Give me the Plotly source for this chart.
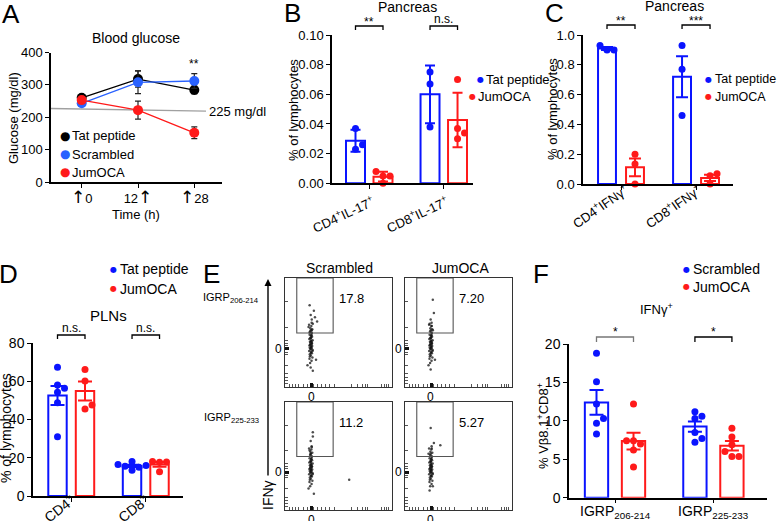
import numpy as np
import plotly.graph_objects as go

W, H = 777, 521
FONT = "Liberation Sans, Arial, sans-serif"
BLUE = "#0a14ff"
RED = "#ff1a1a"
BLUE_A = "#2a62ff"

# ---------------- data ----------------
# Panel A: blood glucose (mg/dl)
time_labels = ["0", "12", "28"]
tat_glucose = [260, 318, 284]
tat_glucose_err = [9, 25, 12]
scr_glucose = [243, 308, 312]
scr_glucose_err = [8, 35, 23]
jum_glucose = [253, 222, 152]
jum_glucose_err = [8, 28, 18]
glucose_threshold = 225

# Panel B: pancreas IL-17 (% of lymphocytes)
b_groups = ["CD4<sup>+</sup>IL-17<sup>+</sup>", "CD8<sup>+</sup>IL-17<sup>+</sup>"]
b_tat = [[0.023, 0.037, 0.026], [0.075, 0.067, 0.038]]
b_jum = [[0.008, 0.005, 0.005, 0.000], [0.070, 0.037, 0.030, 0.034]]
b_sig = ["**", "n.s."]

# Panel C: pancreas IFNg
c_groups = ["CD4<sup>+</sup>IFNγ<sup>+</sup>", "CD8<sup>+</sup>IFNγ<sup>+</sup>"]
c_tat = [[0.93, 0.90, 0.90], [0.93, 0.77, 0.46]]
c_jum = [[0.20, 0.135, 0.0], [0.068, 0.055, 0.0]]
c_sig = ["**", "***"]

# Panel D: PLNs
d_groups = ["CD4<sup>+</sup>", "CD8<sup>+</sup>"]
d_tat = [[67.3, 58.0, 56.3, 54.2, 48.8, 31.0], [13.5, 16.0, 15.5, 15.0, 16.5, 18.0]]
d_jum = [[66.2, 60.1, 45.5, 47.6], [17.8, 17.6, 18.0, 12.7]]
d_sig = ["n.s.", "n.s."]

# Panel E: flow plots (gate frequencies)
e_cols = ["Scrambled", "JumOCA"]
e_rows = ["IGRP<sub>206-214</sub>", "IGRP<sub>225-233</sub>"]
e_freq = [["17.8", "7.20"], ["11.2", "5.27"]]
flow_core_x = [23.5, 24.8, 22.9, 25.6, 24.1, 23.2, 25.1, 24.5, 22.6, 25.9, 23.8, 24.9, 23.1, 24.3,
               25.4, 22.8, 24.6, 23.6, 25.2, 24.0, 23.3, 24.7, 25.8, 22.7, 24.2, 23.9, 25.3, 24.4,
               23.0, 25.0, 24.8, 23.4, 24.1, 25.5, 23.7, 24.6, 22.5, 24.9, 23.2, 25.7,
               24.0, 24.5, 23.6, 25.1, 24.3, 23.9, 24.7, 24.2]
flow_core_y = [22, 24, 26, 27, 29, 30, 31, 32, 33, 34, 35, 35.5, 36, 37, 37.5, 38, 39, 39.5, 40, 41,
               41.5, 42, 43, 44, 44.5, 45, 46, 47, 48, 49, 50, 51, 52, 53, 54, 56, 57, 59, 28, 33,
               34.5, 36.5, 38.5, 40.5, 42.5, 45.5, 47.5, 31.5]
flow_extra_x = [[25, 24, 27, 23, 26, 22, 28, 30, 24, 26, 21, 29, 25, 23],
                [26, 24, 25, 27, 22, 28, 24, 26, 23],
                [25, 24, 26, 23, 60, 22, 27, 24, 26],
                [25, 27, 24, 33, 23, 26, 22]]
flow_extra_y = [[62, 66, 70, 75, 58, 55, 64, 60, 18, 15, 20, 25, 52, 50],
                [80, 62, 56, 68, 20, 25, 16, 52, 58],
                [58, 64, 68, 55, 28, 20, 15, 52, 72],
                [57, 62, 76, 60, 18, 22, 52]]
flow_zero = 24.3

# Panel F: IFNg+ % Vb8.1+CD8+
f_groups = ["IGRP<sub>206-214</sub>", "IGRP<sub>225-233</sub>"]
f_scr = [[18.8, 15.1, 12.2, 10.3, 9.7, 8.3], [11.2, 10.6, 10.3, 8.5, 7.7, 7.2]]
f_jum = [[12.2, 7.4, 7.4, 7.0, 6.2, 4.0], [9.05, 7.9, 6.9, 6.0, 5.35, 5.35]]
f_sig = ["*", "*"]

# ---------------- helpers ----------------
def X(p):
    return p / W

def Y(p):
    return 1 - p / H

annotations = []
shapes = []
traces = []
layout = dict(template="none", width=W, height=H, autosize=False,
              margin=dict(l=0, r=0, t=0, b=0, pad=0),
              paper_bgcolor="white", plot_bgcolor="white", barmode="overlay",
              showlegend=False, font=dict(family=FONT, color="black", size=13))


def ann(text, x, y, size=13, xanchor="center", yanchor="middle", angle=0, color="black"):
    annotations.append(dict(text=text, x=X(x), y=Y(y), xref="paper", yref="paper",
                            xanchor=xanchor, yanchor=yanchor, showarrow=False,
                            textangle=angle, font=dict(family=FONT, size=size, color=color)))


def aref(n, axis):
    return axis + ("" if n == 1 else str(n))


def akey(n, axis):
    return axis + "axis" + ("" if n == 1 else str(n))


def swarm(values, center, ppu_x, ppu_y, d):
    order = np.argsort(values)
    placed = []
    xs = [0.0] * len(values)
    for i in order:
        ypx = values[i] * ppu_y
        xpx = 0.0
        for k in [0, 1, -1, 2, -2, 3, -3]:
            xpx = k * d
            if all((xpx - a) ** 2 + (ypx - b) ** 2 >= (0.95 * d) ** 2 for a, b in placed):
                break
        placed.append((xpx, ypx))
        xs[i] = center + xpx / ppu_x
    return xs


AX_COMMON = dict(showline=True, linecolor="black", linewidth=1.5, ticks="outside", ticklen=4,
                 tickwidth=1.2, tickcolor="black", showgrid=False, zeroline=False,
                 fixedrange=True, automargin=False)


def bar_panel(n, xpx, ypx, yrange, ytickvals, ytickfmt, groups, left, right, lcol, rcol,
              err, sig, gap, bw, cap, fsize, bracket_px, sig_px, label_pos, label_angle,
              label_size, label_anchor="middle", dot=7, bracket_colors=None):
    xr = [-(xpx[2] - xpx[0]) / xpx[3], (xpx[1] - xpx[2]) / xpx[3]]
    xa = dict(AX_COMMON)
    xa.update(domain=[X(xpx[0]), X(xpx[1])], range=xr, anchor=aref(n, "y"),
              tickvals=[0.5, gap + 0.5], showticklabels=False)
    ya = dict(AX_COMMON)
    ya.update(domain=[Y(ypx[1]), Y(ypx[0])], range=yrange, anchor=aref(n, "x"),
              tickvals=ytickvals, tickformat=ytickfmt,
              tickfont=dict(size=fsize, family=FONT, color="black"))
    layout[akey(n, "x")] = xa
    layout[akey(n, "y")] = ya
    for g, (lx, ly) in zip(groups, label_pos):
        ann(g, lx, ly, size=label_size, angle=label_angle, yanchor=label_anchor)
    ppu_x = xpx[3]
    ppu_y = (ypx[1] - ypx[0]) / (yrange[1] - yrange[0])
    for vals, offs, col in [(left, 0, lcol), (right, 1, rcol)]:
        pos = [offs, gap + offs]
        means = [float(np.mean(v)) for v in vals]
        sds = [float(np.std(v, ddof=1)) for v in vals]
        if err == "sem":
            e = [s / np.sqrt(len(v)) for s, v in zip(sds, vals)]
        else:
            e = sds
        traces.append(go.Bar(x=pos, y=means, width=bw, xaxis=aref(n, "x"), yaxis=aref(n, "y"),
                             marker=dict(color="rgba(255,255,255,0)", line=dict(color=col, width=2)),
                             error_y=dict(type="data", array=e, color=col, thickness=2, width=cap),
                             hoverinfo="skip"))
        for p, v in zip(pos, vals):
            xs = swarm(v, p, ppu_x, ppu_y, dot)
            traces.append(go.Scatter(x=xs, y=v, mode="markers", xaxis=aref(n, "x"), yaxis=aref(n, "y"),
                                     marker=dict(color=col, size=dot, line=dict(width=0)),
                                     hoverinfo="skip", cliponaxis=False))
    for gi, s in enumerate(sig):
        x0 = gi * gap
        x1 = x0 + 1
        bc = "black" if bracket_colors is None else bracket_colors[gi]
        top, leg = bracket_px
        shapes.append(dict(type="path", xref=aref(n, "x"), yref="paper",
                           path=f"M {x0},{Y(leg)} L {x0},{Y(top)} L {x1},{Y(top)} L {x1},{Y(leg)}",
                           line=dict(color=bc, width=1.3)))
        yy = sig_px + (3 if "*" in s else 0)
        annotations.append(dict(text=s, x=(x0 + x1) / 2, y=Y(yy), xref=aref(n, "x"), yref="paper",
                                showarrow=False, xanchor="center", yanchor="middle",
                                font=dict(family=FONT, size=12, color="black")))


def legend(items, bx, by, dy, size=13, bullet_size=9, gap_px=4):
    for k, (label, col) in enumerate(items):
        y = by + k * dy
        bxk = bx[k] if isinstance(bx, (list, tuple)) else bx
        ann(f"<span style='color:{col};font-size:{bullet_size}px;font-family:DejaVu Sans'>●</span>",
            bxk, y, size=size)
        ann(label, bxk + gap_px, y, size=size, xanchor="left")


ARROW = "<span style='font-size:17px;font-family:DejaVu Sans'>↑</span>"

# ---------------- Panel A ----------------
ax0 = 81.7
aunit = 56.3
xa = dict(AX_COMMON)
xa.update(domain=[X(51), X(222)], range=[(51 - ax0) / aunit, (222 - ax0) / aunit], anchor="y",
          tickvals=[0, 1, 2],
          ticktext=[ARROW + time_labels[0], time_labels[1] + ARROW, ARROW + time_labels[2]],
          tickfont=dict(size=13, family=FONT, color="black"))
ya = dict(AX_COMMON)
ya.update(domain=[Y(182), Y(52.5)], range=[0, 400], anchor="x",
          tickvals=[0, 100, 200, 300, 400], tickfont=dict(size=13, family=FONT, color="black"))
layout["xaxis"] = xa
layout["yaxis"] = ya
shapes.append(dict(type="line", xref="x", yref="y", x0=(51 - ax0) / aunit, x1=(206 - ax0) / aunit,
                   y0=glucose_threshold + 2, y1=glucose_threshold - 6, line=dict(color="#a0a0a0", width=1.3),
                   layer="below"))
for vals, errs, col in [(tat_glucose, tat_glucose_err, "black"),
                        (scr_glucose, scr_glucose_err, BLUE_A),
                        (jum_glucose, jum_glucose_err, RED)]:
    traces.append(go.Scatter(x=[0, 1, 2], y=vals, mode="lines+markers",
                             line=dict(color=col, width=1.3),
                             marker=dict(color=col, size=10),
                             error_y=dict(type="data", array=errs, color="#222", thickness=1.2, width=3),
                             hoverinfo="skip", cliponaxis=False))
ann("A", 11, 14, size=26)
ann("Blood glucose", 136, 38, size=14)
ann("Glucose (mg/dl)", 13, 118, size=13, angle=-90)
ann("Time (h)", 136, 214, size=13)
ann(f"{glucose_threshold} mg/dl", 207, 112, size=13, xanchor="left")
ann("**", 194, 64, size=12)
legend([("Tat peptide", "black"), ("Scrambled", BLUE_A), ("JumOCA", RED)], 65, 136, 18,
       size=13, bullet_size=12, gap_px=5)

# ---------------- Panel B ----------------
bar_panel(2, (332, 473, 355.5, 27.5), (35, 183.3), [0, 0.1], [0, 0.02, 0.04, 0.06, 0.08, 0.10], ".2f",
          b_groups, b_tat, b_jum, BLUE, RED, "sd", b_sig, 2.71, 0.69, 5, 13,
          (26, 30), 19, [(343, 214), (417, 214)], -25, 13)
ann("B", 292.5, 13, size=26)
ann("Pancreas", 408, 7, size=14)
ann("% of lymphocytes", 294, 110, size=13, angle=-90)
legend([("Tat peptide", BLUE), ("JumOCA", RED)], [480, 472], 79, 17, size=13, bullet_size=8, gap_px=3.5)

# ---------------- Panel C ----------------
bar_panel(3, (583, 733, 607, 28), (35, 184), [0, 1.0], [0, 0.2, 0.4, 0.6, 0.8, 1.0], ".1f",
          c_groups, c_tat, c_jum, BLUE, RED, "sem", c_sig, 2.68, 0.64, 6, 13,
          (25, 29), 18, [(600, 206), (673, 206)], -35, 13)
ann("C", 554, 13, size=26)
ann("Pancreas", 674, 6, size=14)
ann("% of lymphocytes", 552, 109, size=13, angle=-90)
legend([("Tat peptide", BLUE), ("JumOCA", RED)], 708, 79, 17.5, size=12.5, bullet_size=8, gap_px=5)

# ---------------- Panel D ----------------
bar_panel(4, (33, 183, 57.5, 27.5), (343, 496), [0, 80], [0, 20, 40, 60, 80], "d",
          d_groups, d_tat, d_jum, BLUE, RED, "sem", d_sig, 2.71, 0.67, 7, 14,
          (335, 339), 328, [(59, 508), (133, 508)], -38, 14)
ann("D", 8, 274, size=26)
ann("PLNs", 108, 315, size=15)
ann("% of lymphocytes", 6, 428, size=14, angle=-90)
legend([("Tat peptide", BLUE), ("JumOCA", RED)], 113, 269, 19.5, size=14, bullet_size=8, gap_px=5)

# ---------------- Panel E ----------------
ann("E", 212, 274, size=26)
boxes = [(285, 392, 278, 387), (405, 512, 278, 387), (285, 392, 402, 510), (405, 512, 402, 510)]
ytick_minor = [3, 6, 9, 12, 20, 30, 32, 34, 36, 38, 40, 43, 55, 78]
xtick_minor = [4, 7, 10, 13, 17, 21, 27, 30, 34, 38, 42, 46, 62, 68, 72, 75, 77, 90, 93, 95, 97]
for i, (x0, x1, y0, y1) in enumerate(boxes):
    n = 5 + i
    common = dict(range=[0, 100], showline=True, mirror=True, linecolor="#333", linewidth=1,
                  ticks="inside", ticklen=4, tickwidth=2.5, tickcolor="#111",
                  tickfont=dict(size=12, family=FONT, color="black"),
                  showgrid=False, zeroline=False, fixedrange=True, automargin=False)
    xa = dict(common)
    xa.update(domain=[X(x0), X(x1)], anchor=f"y{n}", tickvals=[flow_zero], showticklabels=False,
              minor=dict(tickvals=xtick_minor, ticks="inside", ticklen=3, tickwidth=1, tickcolor="#555"))
    ya = dict(common)
    ya.update(domain=[Y(y1), Y(y0)], anchor=f"x{n}", tickvals=[35], ticktext=["0"],
              minor=dict(tickvals=ytick_minor, ticks="inside", ticklen=3, tickwidth=1, tickcolor="#555"))
    layout[f"xaxis{n}"] = xa
    layout[f"yaxis{n}"] = ya
    annotations.append(dict(text="0", x=flow_zero, y=Y(y1 + 1), xref=f"x{n}", yref="paper",
                            xanchor="center", yanchor="top", showarrow=False,
                            font=dict(family=FONT, size=12, color="black")))
    shapes.append(dict(type="rect", xref=f"x{n}", yref=f"y{n}", x0=11, x1=45, y0=49.5, y1=100,
                       line=dict(color="#555", width=1.1)))
    traces.append(go.Scatter(x=flow_core_x + flow_extra_x[i], y=flow_core_y + flow_extra_y[i],
                             mode="markers", xaxis=f"x{n}", yaxis=f"y{n}",
                             marker=dict(color="#111", size=2.5, opacity=0.75), hoverinfo="skip"))
    r, c = divmod(i, 2)
    ann(e_freq[r][c], x0 + 52, (y0 + 20), size=13, xanchor="left")
ann(e_cols[0], 339, 268, size=14)
ann(e_cols[1], 460, 268, size=14)
ann(e_rows[0], 231, 298, size=11)
ann(e_rows[1], 231, 418, size=11)
annotations.append(dict(text="", x=X(268), y=Y(279), xref="paper", yref="paper", showarrow=True,
                        ax=0, ay=198, arrowhead=2, arrowsize=1, arrowwidth=1.4, arrowcolor="black",
                        standoff=0, startstandoff=0))
ann("IFNγ", 268, 495, size=14, angle=-90)

# ---------------- Panel F ----------------
bar_panel(9, (569, 767, 596.5, 37), (344, 497.7), [0, 20], [0, 5, 10, 15, 20], "d",
          f_groups, f_scr, f_jum, BLUE, RED, "sem", f_sig, 2.66, 0.63, 7, 14,
          (337, 342), 329, [(615, 501), (713, 501)], 0, 14, label_anchor="top",
          bracket_colors=["#777", "black"])
ann("F", 541, 274, size=26)
ann("IFNγ<sup>+</sup>", 656, 309, size=13)
ann("% Vβ8.1<sup>+</sup>CD8<sup>+</sup>", 543, 426, size=13, angle=-90)
legend([("Scrambled", BLUE), ("JumOCA", RED)], 686, 269, 17.5, size=14, bullet_size=8, gap_px=5)

layout["annotations"] = annotations
layout["shapes"] = shapes
fig = go.Figure(data=traces, layout=layout)
fig.write_html("out.html", config={"displayModeBar": False, "responsive": False},
               post_script="document.body.style.margin='0';document.body.style.overflow='hidden';")
